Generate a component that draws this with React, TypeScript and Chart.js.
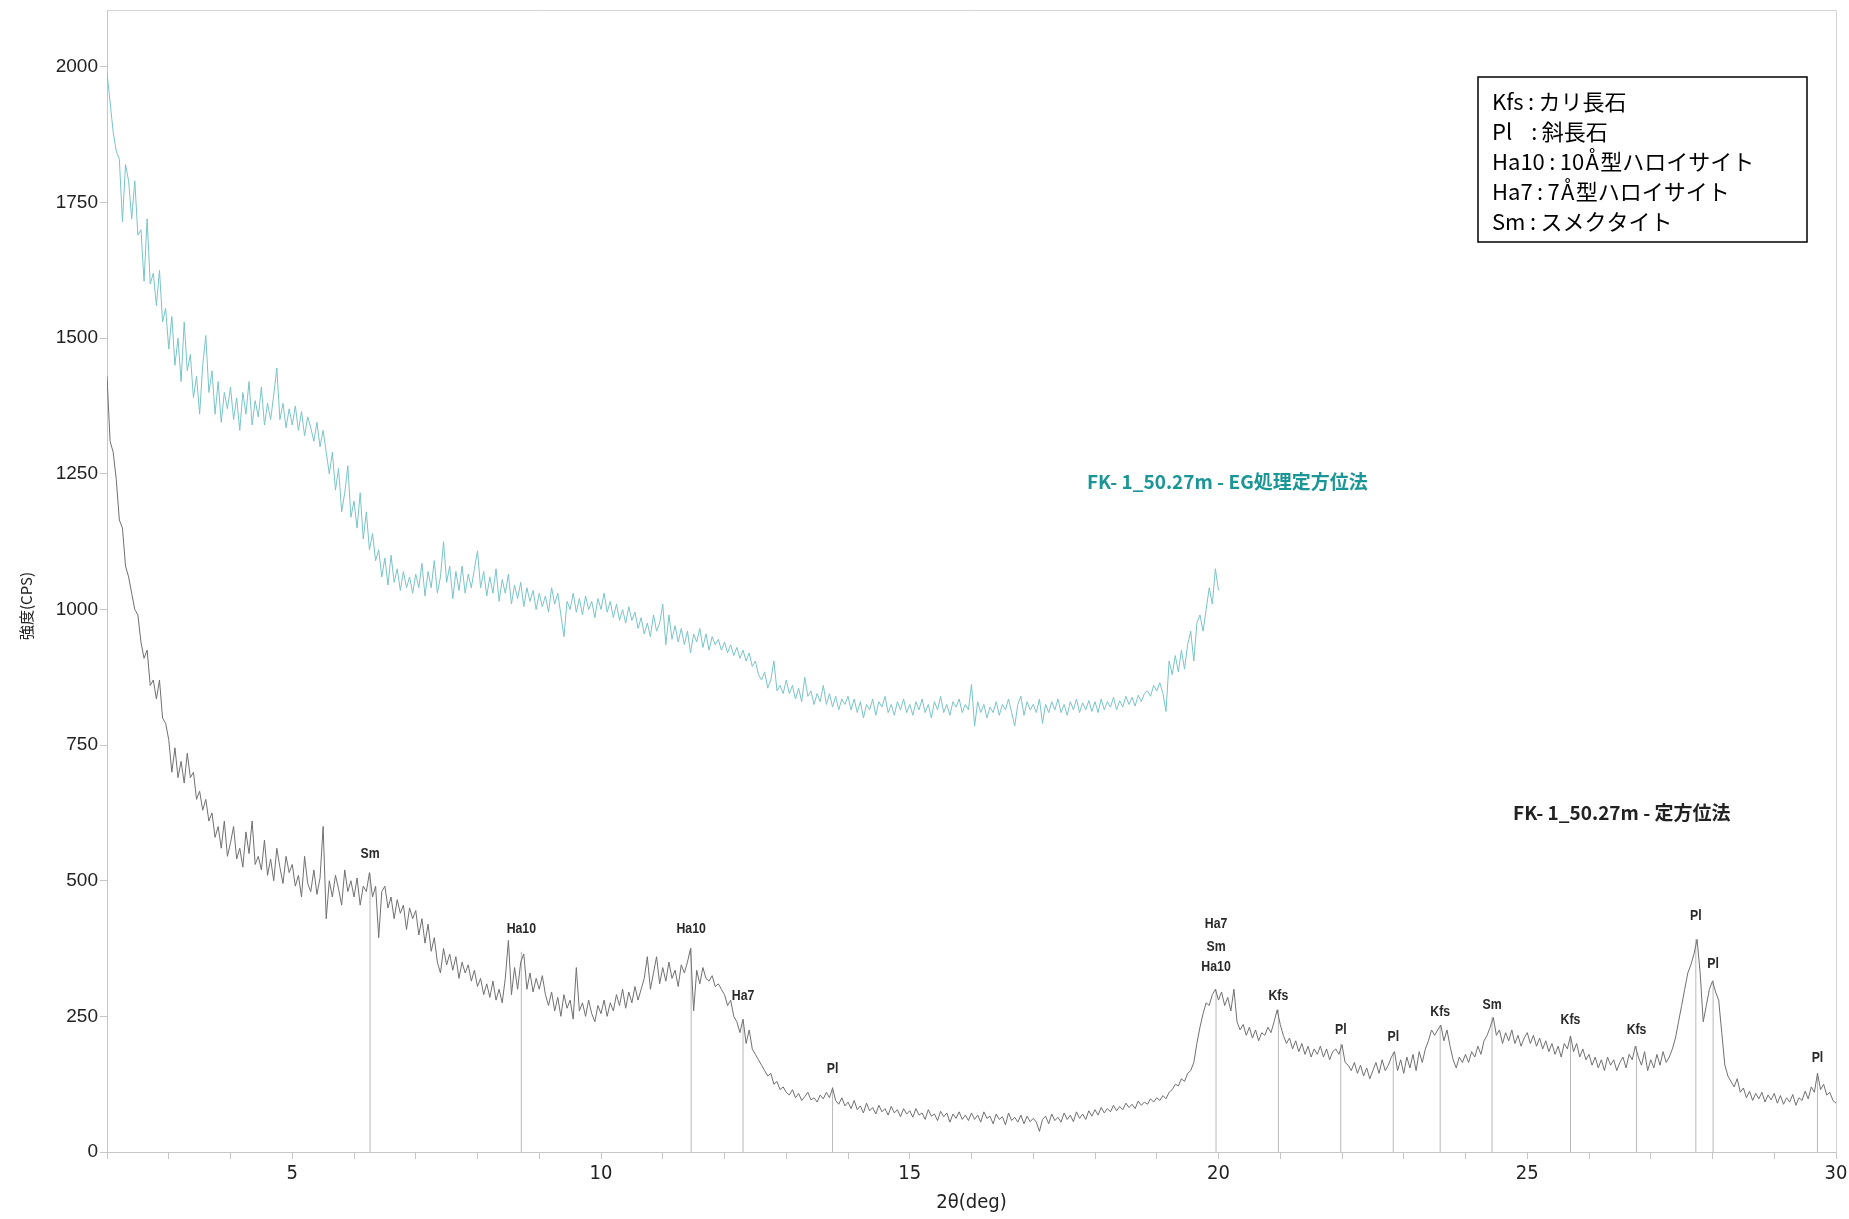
import React, { useEffect, useRef } from 'react';
import { Chart, registerables } from 'chart.js';

Chart.register(...registerables);

// 2θ grid of the scans (deg)
const THETA_START = 2.0;
const THETA_STEP = 0.05;

// FK-1_50.27m - 定方位法 (CPS), 2.00° .. 30.00°
const orientedCps = [
  1430, 1310, 1290, 1240, 1165, 1150, 1080, 1060, 1030, 1000, 990, 940, 910, 925, 860, 870, 835, 870, 800, 790,
  760, 700, 745, 690, 720, 680, 735, 690, 700, 650, 665, 630, 650, 610, 625, 580, 600, 560, 610, 545,
  570, 600, 540, 560, 525, 590, 550, 610, 530, 545, 520, 575, 510, 540, 500, 560, 525, 495, 545, 515,
  530, 490, 510, 470, 545, 495, 480, 520, 475, 505, 600, 430, 500, 470, 510, 485, 455, 520, 480, 500,
  470, 505, 455, 490, 480, 515, 470, 490, 395, 480, 490, 450, 470, 430, 465, 440, 455, 410, 450, 430,
  445, 400, 430, 385, 420, 370, 395, 350, 330, 375, 345, 365, 335, 360, 320, 350, 330, 345, 315, 335,
  305, 320, 290, 310, 285, 315, 280, 300, 275, 320, 390, 290, 340, 300, 350, 365, 300, 330, 295, 320,
  300, 325, 290, 270, 295, 260, 285, 250, 290, 265, 280, 245, 340, 260, 275, 250, 280, 255, 240, 270,
  255, 280, 250, 275, 260, 290, 270, 300, 265, 295, 275, 305, 280, 300, 320, 360, 300, 330, 360, 310,
  340, 315, 350, 320, 335, 305, 345, 330, 350, 375, 260, 335, 310, 340, 320, 315, 325, 305, 310, 300,
  290, 270, 280, 250, 240, 220, 245, 200, 225, 190, 180, 170, 160, 150, 140, 145, 125, 130, 115, 120,
  110, 105, 115, 100, 108, 95, 102, 110, 96, 100, 92, 105, 98, 110, 100, 118, 95, 88, 100, 85,
  92, 80, 95, 78, 85, 72, 90, 76, 82, 70, 86, 74, 80, 68, 84, 72, 78, 65, 80, 70,
  76, 64, 80, 68, 72, 60, 78, 66, 70, 58, 75, 65, 72, 55, 70, 62, 74, 60, 68, 58,
  72, 60, 68, 55, 74, 62, 66, 52, 70, 60, 65, 50, 72, 58, 64, 55, 68, 52, 66, 56,
  62, 55, 38, 60, 66, 52, 70, 58, 64, 55, 72, 60, 68, 56, 74, 62, 70, 60, 76, 66,
  78, 68, 82, 72, 80, 74, 86, 76, 84, 78, 90, 82, 88, 80, 94, 86, 92, 88, 98, 92,
  100, 95, 104, 98, 110, 115, 125, 122, 135, 130, 145, 150, 165, 200, 230, 255, 275, 270, 290, 300,
  280, 295, 270, 285, 260, 300, 240, 225, 235, 215, 230, 210, 225, 205, 220, 215, 230, 220, 240, 262,
  235, 215, 200, 210, 190, 205, 185, 200, 180, 195, 175, 190, 180, 195, 175, 190, 170, 185, 190, 180,
  198, 165, 160, 150, 165, 145, 160, 140, 155, 135, 150, 165, 145, 170, 150, 160, 175, 185, 150, 170,
  145, 175, 155, 180, 150, 185, 165, 190, 205, 225, 215, 225, 234, 205, 225, 195, 170, 155, 175, 165,
  180, 165, 185, 175, 195, 180, 205, 215, 230, 248, 215, 225, 200, 220, 205, 225, 200, 215, 195, 210,
  220, 200, 215, 195, 210, 190, 205, 185, 200, 180, 195, 175, 200, 190, 214, 185, 200, 175, 190, 170,
  180, 160, 175, 155, 170, 150, 175, 160, 170, 150, 165, 175, 155, 180, 170, 195, 175, 160, 185, 150,
  170, 155, 180, 160, 185, 165, 175, 190, 210, 240, 270, 300, 330, 345, 365, 392, 330, 240, 270, 300,
  315, 295, 280, 220, 160, 140, 130, 120, 135, 110, 118, 100, 112, 95, 108, 98, 110, 92, 105, 96,
  108, 90, 104, 88, 100, 92, 106, 86, 100, 95, 112, 98, 120, 110, 145, 115, 125, 105, 110, 95,
  90,
];

// FK-1_50.27m - EG処理定方位法 (CPS), 2.00° .. 20.00°
const egCps = [
  1990, 1935, 1880, 1845, 1830, 1715, 1820, 1790, 1720, 1790, 1690, 1700, 1605, 1720, 1600, 1620, 1560, 1625, 1530, 1555,
  1480, 1540, 1450, 1500, 1420, 1530, 1440, 1470, 1390, 1430, 1360, 1450, 1505, 1400, 1440, 1360, 1420, 1345, 1400, 1370,
  1410, 1350, 1390, 1330, 1400, 1360, 1420, 1340, 1385, 1355, 1410, 1340, 1380, 1350, 1395, 1445, 1350, 1380, 1335, 1370,
  1340, 1375, 1330, 1365, 1320, 1355, 1335, 1310, 1345, 1300, 1330, 1290, 1250, 1290, 1220, 1260, 1180, 1215, 1265, 1170,
  1200, 1150, 1215, 1130, 1180, 1110, 1140, 1090, 1110, 1060, 1095, 1045, 1100, 1050, 1075, 1035, 1070, 1040, 1060, 1030,
  1065, 1040, 1085, 1025, 1070, 1040, 1090, 1030, 1060, 1125, 1050, 1080, 1020, 1070, 1035, 1080, 1030, 1065, 1040, 1075,
  1108, 1040, 1070, 1025, 1060, 1030, 1075, 1015, 1055, 1030, 1065, 1010, 1045, 1020, 1050, 1005, 1040, 1015, 1035, 1000,
  1030, 1005, 1025, 995, 1040, 1010, 1030, 990, 950, 1015, 1000, 1030, 995, 1020, 990, 1025, 1000, 1015, 985, 1020,
  1000, 1030, 995, 1015, 985, 1010, 980, 1000, 975, 1005, 980, 995, 965, 985, 955, 975, 950, 990, 960, 975,
  1010, 935, 990, 945, 970, 940, 965, 935, 960, 920, 955, 940, 965, 930, 955, 925, 950, 935, 945, 925,
  940, 920, 935, 915, 930, 910, 925, 905, 920, 895, 905, 880, 870, 885, 855, 870, 905, 850, 860, 845,
  870, 845, 860, 835, 855, 830, 875, 840, 850, 825, 845, 830, 860, 825, 845, 820, 840, 815, 835, 825,
  840, 815, 835, 810, 830, 800, 825, 815, 835, 805, 830, 820, 840, 810, 825, 805, 830, 815, 835, 810,
  825, 805, 830, 815, 835, 810, 825, 800, 830, 815, 840, 810, 825, 805, 830, 820, 835, 810, 825, 815,
  862, 785, 830, 810, 825, 800, 820, 810, 830, 805, 825, 815, 835, 810, 785, 825, 840, 805, 830, 815,
  825, 810, 835, 790, 825, 810, 830, 815, 835, 810, 825, 805, 830, 815, 835, 810, 828, 815, 832, 812,
  830, 810, 835, 815, 830, 820, 838, 815, 832, 820, 840, 825, 838, 822, 842, 830, 845, 850, 840, 860,
  850, 865, 845, 812, 905, 880, 915, 885, 925, 890, 935, 960, 905, 975, 990, 960, 1000, 1040, 1010, 1075, 1035,
];

// Peak identification sticks (2θ, intensity reached by the stick)
const peakTheta = [6.26, 8.71, 11.46, 12.3, 13.75, 19.96, 20.97, 21.98, 22.83, 23.59, 24.43, 25.7, 26.77, 27.73, 28.01, 29.7];
const peakTop = [514, 369, 376, 240, 120, 300, 263, 199, 184, 234, 249, 214, 195, 392, 317, 146];

// Peak labels (text, 2θ, intensity of label centre)
const peakLabelText = ['Sm', 'Ha10', 'Ha10', 'Ha7', 'Pl', 'Ha7', 'Sm', 'Ha10', 'Kfs', 'Pl', 'Pl', 'Kfs', 'Sm', 'Kfs', 'Kfs', 'Pl', 'Pl', 'Pl'];
const peakLabelTheta = [6.26, 8.71, 11.46, 12.3, 13.75, 19.96, 19.96, 19.96, 20.97, 21.98, 22.83, 23.59, 24.43, 25.7, 26.77, 27.73, 28.01, 29.7];
const peakLabelCps = [550, 411, 411, 287, 154, 420, 378, 341, 287, 226, 213, 259, 272, 243, 226, 435, 346, 174];

// Series names and where they are written (2θ of left edge, intensity)
const seriesNames = ['FK- 1_50.27m - EG処理定方位法', 'FK- 1_50.27m - 定方位法'];
const seriesNameTheta = [17.87, 24.77];
const seriesNameCps = [1235, 625];

// Mineral key
const keyLines = [
  'Kfs\u2009:\u2009カリ長石',
  'Pl   \u2009:\u2009斜長石',
  'Ha10\u2009:\u200910\u200aÅ\u200a型ハロイサイト',
  'Ha7\u2009:\u20097\u200aÅ\u200a型ハロイサイト',
  'Sm\u2009:\u2009スメクタイト',
];

// Axis
const xTickLabels = [5, 10, 15, 20, 25, 30];
const xTitle = '2θ(deg)';
const yTitle = '強度(CPS)';

const BLACK_LINE = '#707070';
const CYAN_LINE = '#79c4c8';
const CYAN_TEXT = '#1b9696';
const STICK = '#b8b8b8';
const AXIS = '#c6c6c6';

const JP = '"Noto Sans CJK JP", "Noto Sans", sans-serif';
const NARROW = '"Liberation Sans Narrow", "DejaVu Sans Condensed", "Liberation Sans", sans-serif';

const toPoints = (vals: number[]) =>
  vals.map((v, i) => ({ x: Math.round((THETA_START + i * THETA_STEP) * 100) / 100, y: v }));

const framePlugin = {
  id: 'frame',
  beforeDatasetsDraw(chart: any) {
    const { ctx, chartArea } = chart;
    ctx.save();
    ctx.strokeStyle = '#d4d4d4';
    ctx.lineWidth = 1;
    ctx.beginPath();
    ctx.moveTo(chartArea.left, chartArea.top + 0.5);
    ctx.lineTo(chartArea.right + 0.5, chartArea.top + 0.5);
    ctx.lineTo(chartArea.right + 0.5, chartArea.bottom);
    ctx.stroke();
    ctx.restore();
  },
};

const annotationPlugin = {
  id: 'xrdAnnotations',
  afterDraw(chart: any) {
    const { ctx, chartArea } = chart;
    const xs = chart.scales.x;
    const ys = chart.scales.y;
    ctx.save();
    // y axis title
    ctx.save();
    ctx.translate(26, (chartArea.top + chartArea.bottom) / 2 + 25);
    ctx.rotate(-Math.PI / 2);
    ctx.font = `15px ${JP}`;
    ctx.fillStyle = '#222222';
    ctx.textAlign = 'center';
    ctx.textBaseline = 'middle';
    ctx.fillText(yTitle, 0, 0);
    ctx.restore();
    // peak labels (condensed)
    ctx.font = `600 15px "Liberation Sans", Arial, sans-serif`;
    ctx.fillStyle = '#2a2a2a';
    ctx.textAlign = 'center';
    ctx.textBaseline = 'middle';
    peakLabelText.forEach((t, i) => {
      ctx.save();
      ctx.translate(xs.getPixelForValue(peakLabelTheta[i]), ys.getPixelForValue(peakLabelCps[i]));
      ctx.scale(0.82, 1);
      ctx.fillText(t, 0, 0);
      ctx.restore();
    });
    // series names
    ctx.font = `bold 19px ${JP}`;
    ctx.textAlign = 'left';
    seriesNames.forEach((t, i) => {
      ctx.fillStyle = i === 0 ? CYAN_TEXT : '#222222';
      ctx.fillText(t, xs.getPixelForValue(seriesNameTheta[i]), ys.getPixelForValue(seriesNameCps[i]));
    });
    // key box
    const boxW = 329;
    const boxH = 165;
    const boxL = chartArea.right - 358;
    const boxT = chartArea.top + 67;
    ctx.fillStyle = '#ffffff';
    ctx.fillRect(boxL, boxT, boxW, boxH);
    ctx.strokeStyle = '#000000';
    ctx.lineWidth = 1.5;
    ctx.strokeRect(boxL, boxT, boxW, boxH);
    ctx.fillStyle = '#000000';
    ctx.font = `22px ${JP}`;
    ctx.textBaseline = 'middle';
    keyLines.forEach((t, i) => {
      ctx.fillText(t, boxL + 14, boxT + 25 + i * 30);
    });
    ctx.restore();
  },
};

export default function App() {
  const canvasRef = useRef<HTMLCanvasElement | null>(null);

  useEffect(() => {
    document.body.style.margin = '0';
    document.body.style.overflow = 'hidden';
    const canvas = canvasRef.current;
    if (!canvas) return;

    const stickSets = peakTheta.map((t, i) => ({
      label: `stick${i}`,
      data: [
        { x: t, y: 0 },
        { x: t, y: peakTop[i] },
      ],
      borderColor: STICK,
      borderWidth: 1,
      pointRadius: 0,
      tension: 0,
    }));

    const chart = new Chart(canvas, {
      type: 'line',
      data: {
        datasets: [
          {
            label: seriesNames[1],
            data: toPoints(orientedCps),
            borderColor: BLACK_LINE,
            borderWidth: 1,
            pointRadius: 0,
            tension: 0,
          },
          {
            label: seriesNames[0],
            data: toPoints(egCps),
            borderColor: CYAN_LINE,
            borderWidth: 1,
            pointRadius: 0,
            tension: 0,
          },
          ...stickSets,
        ],
      },
      options: {
        responsive: false,
        devicePixelRatio: 1,
        animation: false,
        layout: { padding: { top: 10, right: 13, left: 0, bottom: 0 } },
        plugins: {
          legend: { display: false },
          tooltip: { enabled: false },
        },
        scales: {
          x: {
            type: 'linear',
            min: 2,
            max: 30,
            afterFit: (s: any) => {
              s.height = 67;
              s.paddingLeft = 0;
              s.paddingRight = 0;
            },
            ticks: {
              stepSize: 1,
              autoSkip: false,
              maxRotation: 0,
              padding: 3,
              color: '#222222',
              font: { family: NARROW, size: 20 },
              callback: (v: any) => (xTickLabels.includes(Number(v)) ? String(v) : ''),
            },
            grid: { drawOnChartArea: false, drawTicks: true, tickLength: 7, color: AXIS },
            border: { color: AXIS },
            title: {
              display: true,
              text: xTitle,
              color: '#222222',
              font: { family: NARROW, size: 20 },
              padding: { top: 0, bottom: 4 },
            },
          },
          y: {
            type: 'linear',
            min: 0,
            max: 2105,
            afterFit: (s: any) => {
              s.width = 107;
              s.paddingTop = 0;
              s.paddingBottom = 0;
            },
            ticks: {
              stepSize: 250,
              includeBounds: false,
              padding: 2,
              color: '#222222',
              font: { family: '"Liberation Sans", Arial, sans-serif', size: 19 },
              callback: (v: any) => String(v),
            },
            grid: { drawOnChartArea: false, drawTicks: true, tickLength: 7, color: AXIS },
            border: { color: AXIS },
            title: { display: false },
          },
        },
      },
      plugins: [framePlugin, annotationPlugin],
    } as any);

    return () => {
      chart.destroy();
    };
  }, []);

  return (
    <div style={{ position: 'absolute', left: 0, top: 0, width: 1849, height: 1219, background: '#ffffff' }}>
      <canvas ref={canvasRef} width={1849} height={1219} style={{ display: 'block' }} />
    </div>
  );
}
